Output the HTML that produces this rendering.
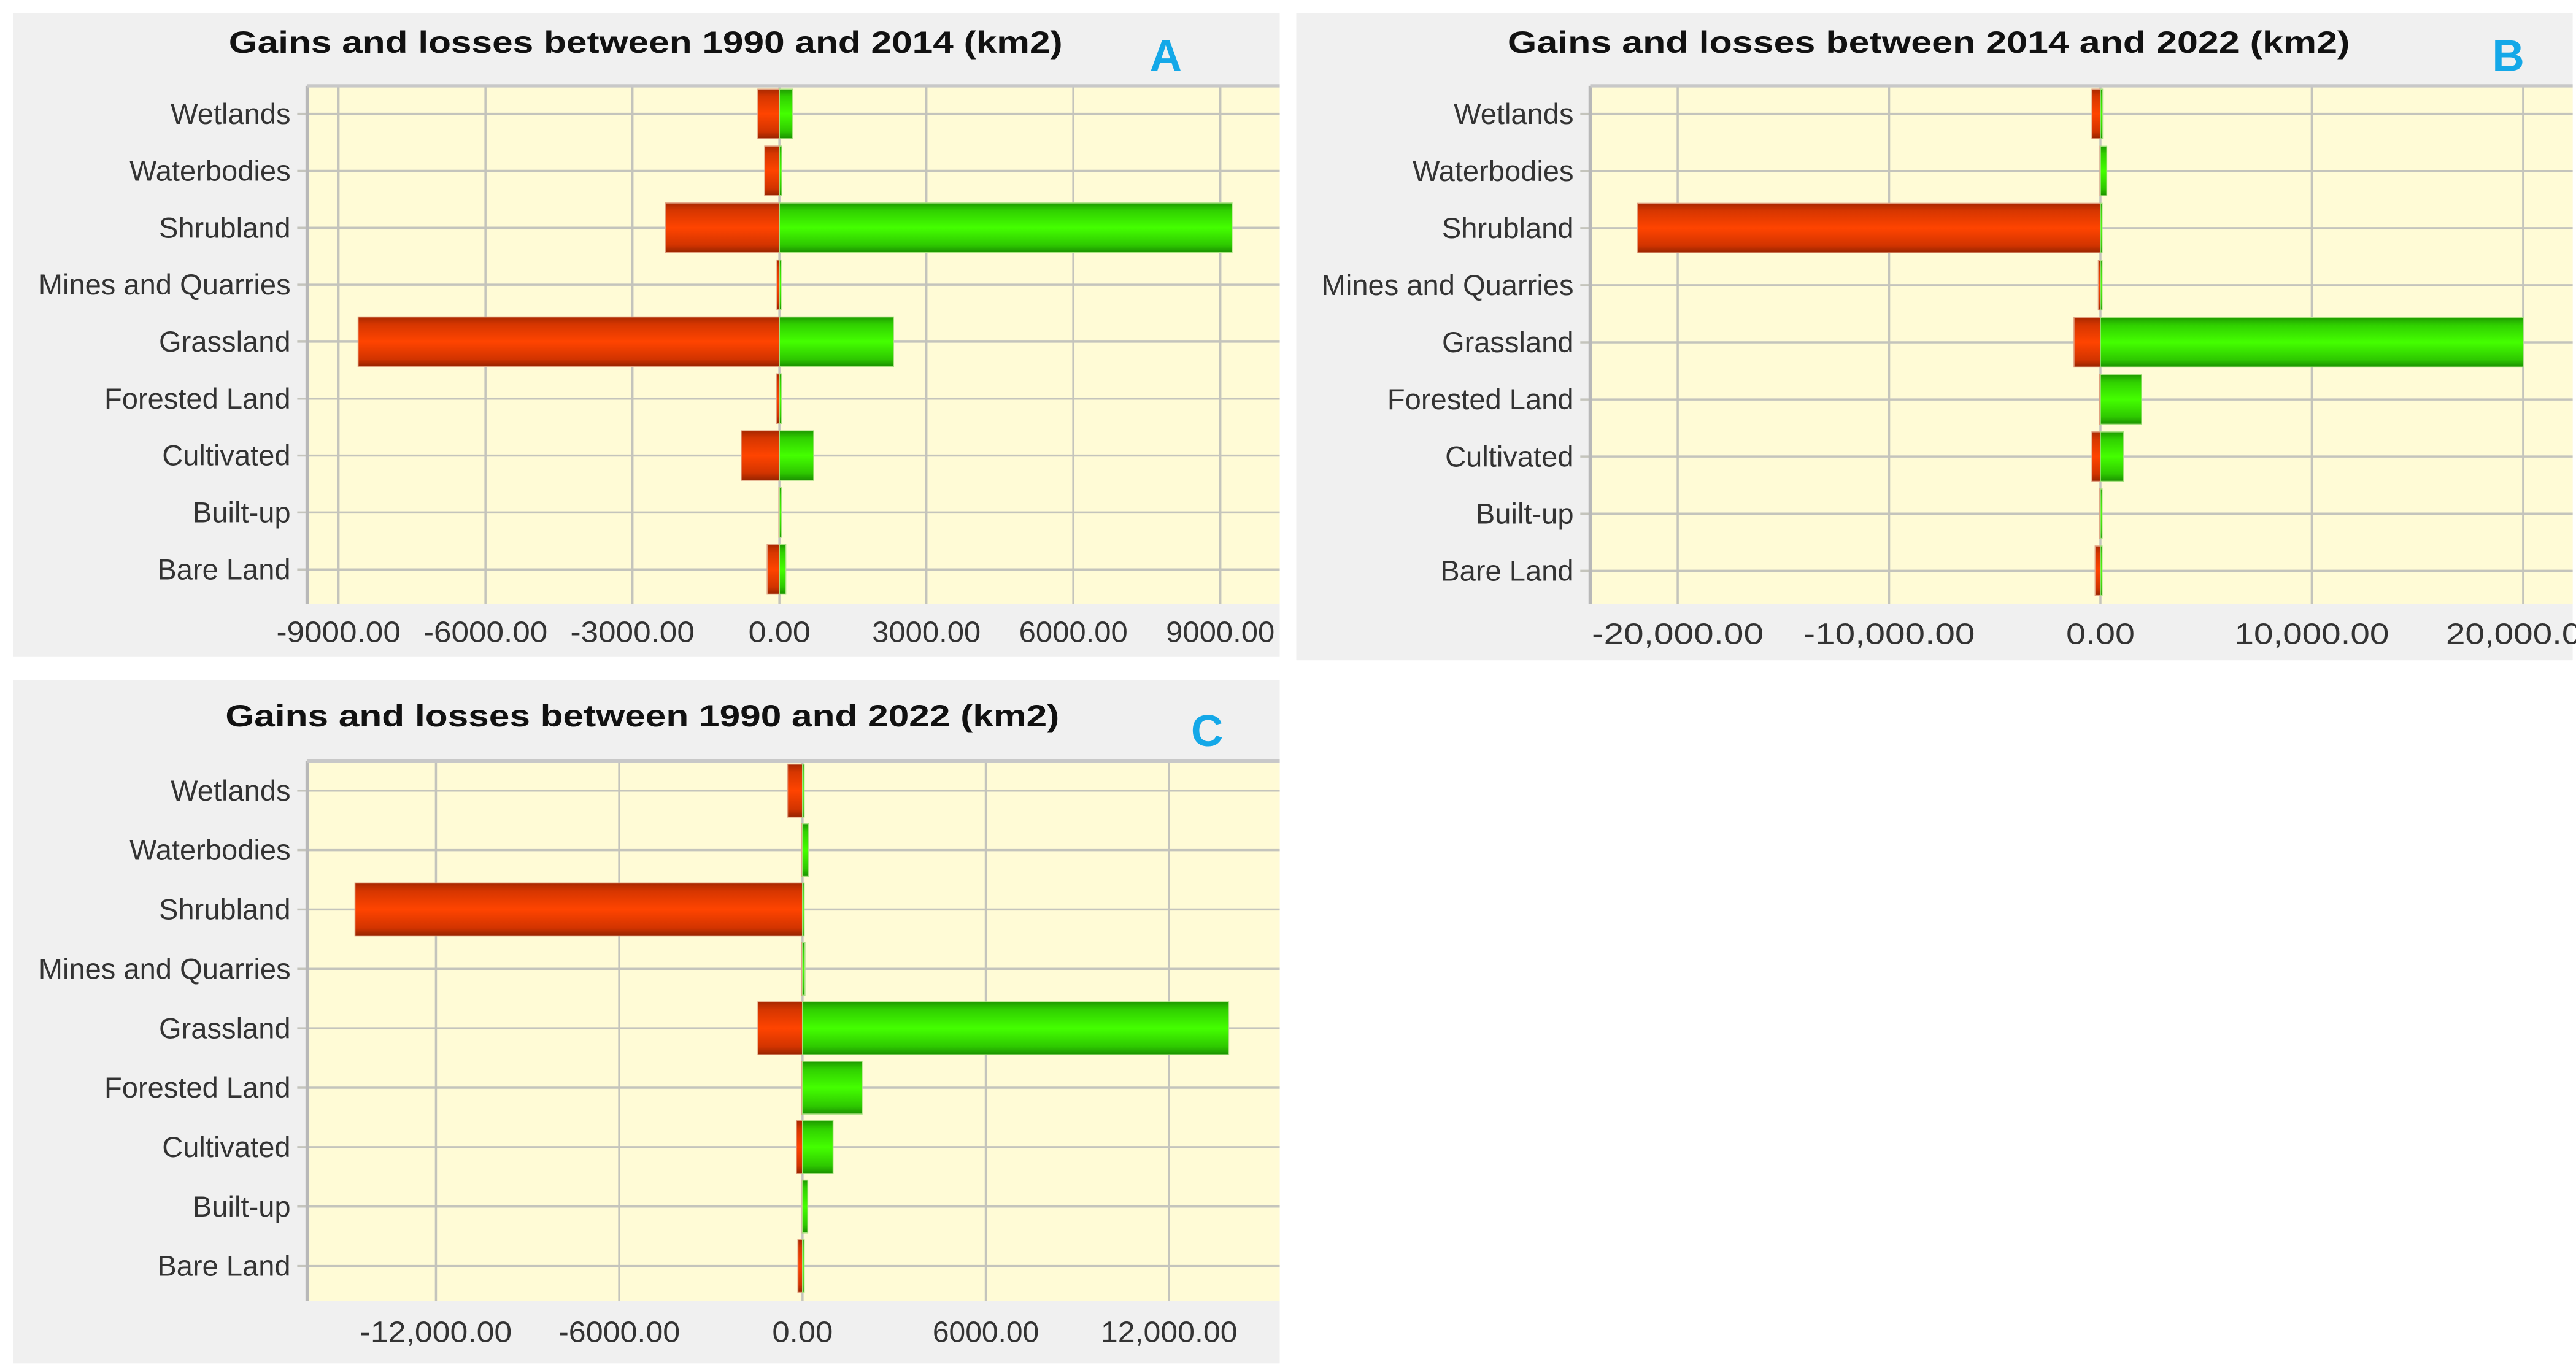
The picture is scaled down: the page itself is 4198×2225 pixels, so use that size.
<!DOCTYPE html>
<html><head><meta charset="utf-8">
<style>
html,body{margin:0;padding:0;background:#fff;}
svg{display:block;}
text{font-family:"Liberation Sans",sans-serif;}
</style></head>
<body>
<svg id="fig" width="4198" height="2225" viewBox="0 0 1560 827" preserveAspectRatio="none" xmlns="http://www.w3.org/2000/svg">
<defs>
<linearGradient id="gRed" x1="0" y1="0" x2="0" y2="1">
<stop offset="0" stop-color="#a82800"/><stop offset="0.15" stop-color="#d63600"/><stop offset="0.5" stop-color="#ff4400"/><stop offset="0.85" stop-color="#d23400"/><stop offset="1" stop-color="#962400"/>
</linearGradient>
<linearGradient id="gGreen" x1="0" y1="0" x2="0" y2="1">
<stop offset="0" stop-color="#1e9a00"/><stop offset="0.15" stop-color="#30d000"/><stop offset="0.5" stop-color="#44ff00"/><stop offset="0.85" stop-color="#2ec800"/><stop offset="1" stop-color="#1a9000"/>
</linearGradient>
</defs>
</svg>
<script>
const categories = ["Wetlands","Waterbodies","Shrubland","Mines and Quarries","Grassland","Forested Land","Cultivated","Built-up","Bare Land"];
const lossA = [-440,-300,-2330,-50,-8600,-60,-780,-10,-250];
const gainA = [270,50,9240,30,2330,40,700,40,130];
const ticksA = [-9000,-6000,-3000,0,3000,6000,9000];
const tickLabelsA = ["-9000.00","-6000.00","-3000.00","0.00","3000.00","6000.00","9000.00"];
const lossB = [-400,-20,-21900,-100,-1250,-50,-400,-30,-250];
const gainB = [100,300,50,30,20000,1950,1100,30,50];
const ticksB = [-20000,-10000,0,10000,20000];
const tickLabelsB = ["-20,000.00","-10,000.00","0.00","10,000.00","20,000.00"];
const lossC = [-490,-20,-14650,-30,-1460,-20,-200,-10,-150];
const gainC = [20,200,20,80,13950,1950,1000,170,20];
const ticksC = [-12000,-6000,0,6000,12000];
const tickLabelsC = ["-12,000.00","-6000.00","0.00","6000.00","12,000.00"];

const NS="http://www.w3.org/2000/svg";
const svg=document.getElementById('fig');
function mk(tag,attrs,parent){const e=document.createElementNS(NS,tag);for(const k in attrs)e.setAttribute(k,attrs[k]);(parent||svg).appendChild(e);return e;}

function panel(p){
  const g=mk('g',{});
  
  
  const bg=mk('rect',{x:p.bx,y:p.by,width:p.bw,height:p.bh,fill:'#f0f0f0'},g);
  
  
  const t=mk('text',{x:p.tx,y:p.ty,'text-anchor':'middle','font-size':18.5,'font-weight':'bold',fill:'#111',textLength:p.titleLen,lengthAdjust:'spacingAndGlyphs'},g);
  t.textContent=p.title;
  
  
  const lt=mk('text',{x:p.lx,y:p.ly,'text-anchor':'middle','font-size':27,'font-weight':'bold',fill:'#14a8e8'},g);
  lt.textContent=p.id;
  
  
  const pa=mk('rect',{x:p.left,y:p.top,width:p.right-p.left,height:p.bottom-p.top,fill:'#fffbd6'},g);
  
  
  const xs=v=>p.zero+v*p.ppu;
  const ys=i=>p.row0+i*p.rowStep;
  p.ticks.forEach((tv,i)=>{
    const gl=mk('line',{x1:xs(tv),x2:xs(tv),y1:p.top,y2:p.bottom,stroke:'#c4c4bc','stroke-width':1.3},g);
    
    
    const lab=p.tickLabels[i];
    const tl=mk('text',{x:xs(tv),y:p.tickY,'text-anchor':'middle','font-size':18,fill:'#333',textLength:lab.length*p.cw,lengthAdjust:'spacingAndGlyphs'},g);
    tl.textContent=lab;
    
    
  });
  categories.forEach((c,i)=>{
    const hl=mk('line',{x1:p.left-6,x2:p.right,y1:ys(i),y2:ys(i),stroke:'#c4c4bc','stroke-width':1.3},g);
    
    
    const cl=mk('text',{x:p.left-10,y:ys(i)+6,'text-anchor':'end','font-size':17.5,fill:'#333'},g);
    cl.textContent=c;
    
    
  });
  const lb=mk('line',{x1:p.left,x2:p.left,y1:p.top,y2:p.bottom,stroke:'#b8b8b8','stroke-width':2},g);
  
  
  const tb=mk('line',{x1:p.left,x2:p.right,y1:p.top,y2:p.top,stroke:'#c8c8c8','stroke-width':2},g);
  
  
  categories.forEach((c,i)=>{
    const y=ys(i)-p.barH/2;
    const lv=p.loss[i], gv=p.gain[i];
    const lx=xs(lv), gx=xs(gv), z=xs(0);
    const rb=mk('rect',{x:Math.min(lx,z),y:y,width:Math.max(Math.abs(z-lx),1),height:p.barH,fill:'url(#gRed)',stroke:'#e0a080','stroke-width':0.6},g);
    
    
    const gb=mk('rect',{x:z,y:y,width:Math.max(gx-z,1),height:p.barH,fill:'url(#gGreen)',stroke:'#a8e080','stroke-width':0.6},g);
    
    
  });
}

panel({id:'A',title:'Gains and losses between 1990 and 2014 (km2)',titleLen:505,bx:8,by:8,bw:767,bh:390,tx:391,ty:32,lx:706,ly:43,
  left:186,right:775,top:52,bottom:366,zero:472,ppu:89/3000,row0:69,rowStep:34.5,barH:30,tickY:389,cw:9.4,
  ticks:ticksA,tickLabels:tickLabelsA,loss:lossA,gain:gainA});
panel({id:'B',title:'Gains and losses between 2014 and 2022 (km2)',titleLen:510,bx:785,by:8,bw:773,bh:392,tx:1168,ty:32,lx:1519,ly:43,
  left:963,right:1558,top:52,bottom:366,zero:1272,ppu:128/10000,row0:69,rowStep:34.6,barH:30,tickY:390,cw:10.4,
  ticks:ticksB,tickLabels:tickLabelsB,loss:lossB,gain:gainB});
panel({id:'C',title:'Gains and losses between 1990 and 2022 (km2)',titleLen:505,bx:8,by:412,bw:767,bh:414,tx:389,ty:440,lx:731,ly:452,
  left:186,right:775,top:461,bottom:788,zero:486,ppu:111/6000,row0:479,rowStep:36,barH:32,tickY:813,cw:9.2,
  ticks:ticksC,tickLabels:tickLabelsC,loss:lossC,gain:gainC});
</script>
</body></html>
